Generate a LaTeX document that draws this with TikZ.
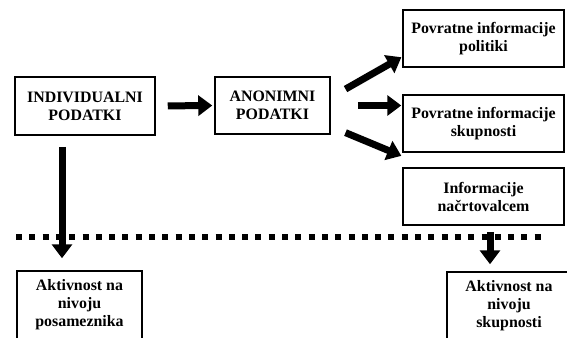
\documentclass[tikz,border=0pt]{standalone}
\usepackage{fontspec}
\setmainfont{Liberation Serif}
\usetikzlibrary{arrows.meta}

\begin{document}
\begin{tikzpicture}[x=1pt, y=-1pt]

\tikzstyle{box}=[draw, line width=1.5pt, inner sep=0pt, align=center,
  font=\bfseries\fontsize{15.9}{18}\selectfont]
\tikzstyle{bigarrow}=[line width=7pt, -{Triangle[length=14pt, width=20pt]}]

\useasboundingbox (0,0) rectangle (567,337);

\draw     (85, 106) node[box, minimum width=140pt, minimum height=58pt] (ind) {INDIVIDUALNI\\PODATKI};
\draw     (272.5, 105.5) node[box, minimum width=115pt, minimum height=57pt] (anon) {ANONIMNI\\PODATKI}
          (483.5, 38.5)  node[box, minimum width=161pt, minimum height=57pt] (pol) {Povratne informacije\\politiki}
          (483.5, 123.5) node[box, minimum width=161pt, minimum height=57pt] (skup) {Povratne informacije\\skupnosti}
          (483.5, 196.5) node[box, minimum width=161pt, minimum height=57pt] (nacrt) {Informacije\\načrtovalcem};
\draw     (79.5, 305)  node[box, minimum width=125pt, minimum height=68pt] (posam) {Aktivnost na\\nivoju\\posameznika}
          (509, 306)   node[box, minimum width=124pt, minimum height=68pt] (skupakt) {Aktivnost na\\nivoju\\skupnosti};

% dotted border line
\draw[line width=6pt, dash pattern=on 6pt off 7.3pt] (16,237) -- (543,237);

\draw[bigarrow, shorten <=12pt, shorten >=2pt] (ind.east) -- (anon.west);
\draw[bigarrow, shorten <=17pt, shorten >=1pt] ([yshift=8pt]anon.east) -- ([yshift=11pt]pol.south west);
\draw[bigarrow, shorten <=27pt, shorten >=1pt] (anon.east) -- (anon.east -| skup.west);
\draw[bigarrow, shorten <=16pt, shorten >=1pt] ([yshift=-21pt]anon.east) -- ([yshift=11pt]nacrt.north west);
\draw[bigarrow, shorten <=11pt, shorten >=12pt] ([xshift=-23pt]ind.south) -- ([xshift=-17.5pt]posam.north);
\draw[bigarrow, shorten <=6pt, shorten >=7pt] ([xshift=6.5pt]nacrt.south) -- ([xshift=-19pt]skupakt.north);

\end{tikzpicture}
\end{document}
